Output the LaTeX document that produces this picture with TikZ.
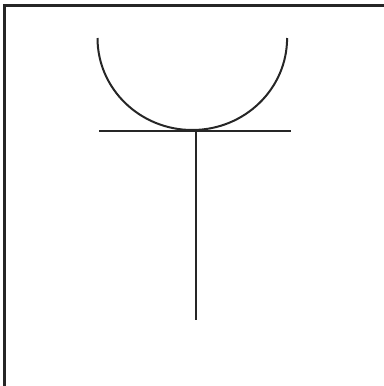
\documentclass[tikz,border=0pt]{standalone}
\usepackage{tikz}
\usetikzlibrary{positioning,calc}

\begin{document}
\begin{tikzpicture}[
        x=0.75pt, y=-0.75pt,
        frame/.style={line width=1.9pt, draw=black!85},
        stroke/.style={line width=1.5pt, draw=black!85}
    ]
    \useasboundingbox (0,0) rectangle (383,386);
    % open frame, cut by the page at right and bottom
    \coordinate (fa) at (4.5,400);
    \coordinate (fb) at (4.5,5.5);
    \coordinate (fc) at (400,5.5);
    \draw[frame] (fa) -- (fb) -- (fc);
    % cup
    \coordinate (cupl) at (97.5,38);
    \draw[stroke] (cupl) arc[start angle=180, end angle=360, x radius=94.8, y radius=-92];
    % bar and stem
    \coordinate (barl) at (99,131);
    \coordinate (barr) at (291,131);
    \coordinate (stemt) at (195.7,131);
    \coordinate (stemb) at (195.7,320);
    \draw[stroke] (barl) -- (barr);
    \draw[stroke] (stemt) -- (stemb);
\end{tikzpicture}
\end{document}
